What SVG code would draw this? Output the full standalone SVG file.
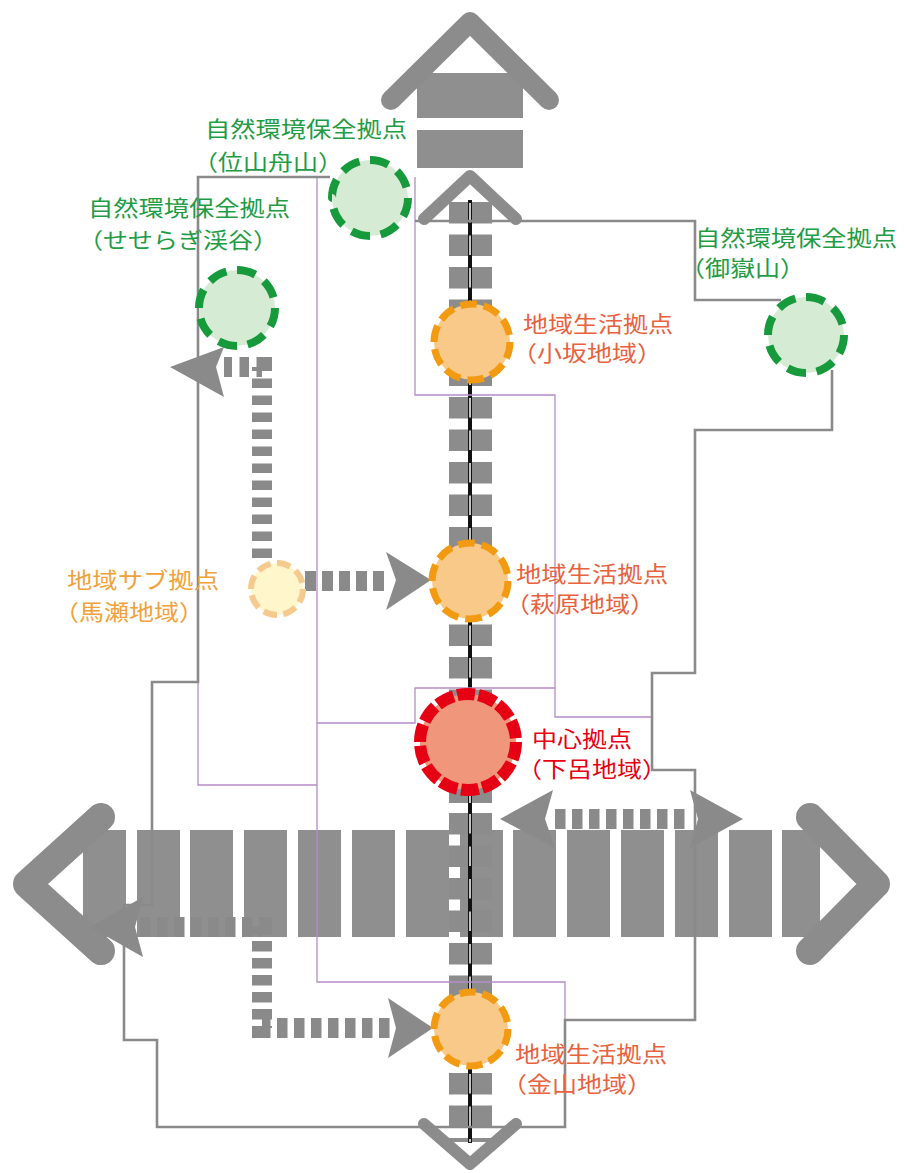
<svg xmlns="http://www.w3.org/2000/svg" width="905" height="1173" viewBox="0 0 905 1173">
<defs>
<style>
text{font-family:"Noto Sans CJK JP","Noto Sans CJK SC",sans-serif;font-size:22px}
.tg{fill:#1f9c46}.to{fill:#e8623e}.tr{fill:#e60012}.ty{fill:#f0a23a}
.road{fill:#8f8f8f}
.chev{fill:none;stroke:#8c8c8c;stroke-linecap:round;stroke-linejoin:round}
.ln{fill:none;stroke:#8a8a8a;stroke-width:2.6}
.pl{fill:none;stroke:#b58cc8;stroke-width:1.3}
.dot{fill:none;stroke:#8a8a8a;stroke-width:20}
.ah{fill:#8a8a8a}
.cg{fill:#d5ebd3;stroke:#169a3c;stroke-width:8;stroke-dasharray:8 4.5}
.co{fill:#f8c988;stroke:#f29b12;stroke-width:7;stroke-dasharray:7 3}
.cy{fill:#fff6cc;stroke:#f6c98e;stroke-width:6;stroke-dasharray:8.5 4}
.cr{fill:#f0977b;stroke:#e60014;stroke-width:12;stroke-dasharray:5.9 1.24}
</style>
</defs>

<!-- horizontal road -->
<g id="road-h">
<rect class="road" x="83" y="830" width="43" height="107"/>
<rect class="road" x="137" y="830" width="43" height="107"/>
<rect class="road" x="190" y="830" width="43" height="107"/>
<rect class="road" x="244" y="830" width="43" height="107"/>
<rect class="road" x="298" y="830" width="43" height="107"/>
<rect class="road" x="352" y="830" width="43" height="107"/>
<rect class="road" x="406" y="830" width="43" height="107"/>
<rect class="road" x="460" y="830" width="43" height="107"/>
<rect class="road" x="513" y="830" width="43" height="107"/>
<rect class="road" x="567" y="830" width="43" height="107"/>
<rect class="road" x="621" y="830" width="43" height="107"/>
<rect class="road" x="675" y="830" width="43" height="107"/>
<rect class="road" x="729" y="830" width="43" height="107"/>
<rect class="road" x="782" y="830" width="38" height="107"/>
<path class="chev" stroke-width="28" d="M101,817 L27,884 L101,951"/>
<path class="chev" stroke-width="28" d="M810,817 L876,884 L810,951"/>
</g>

<!-- top road arrow -->
<g id="road-top">
<rect class="road" x="417" y="73" width="106" height="45"/>
<rect class="road" x="417" y="130" width="106" height="38"/>
<path class="chev" stroke-width="20" d="M391,100 L470,22 L549,100"/>
</g>

<!-- railway -->
<g id="rail">
<line x1="470.5" y1="202" x2="470.5" y2="803" stroke="#8c8c8c" stroke-width="43" stroke-dasharray="21.5 11"/>
<line x1="470.5" y1="813" x2="470.5" y2="1142" stroke="#8c8c8c" stroke-width="43" stroke-dasharray="21.5 11"/>
<line x1="470" y1="200" x2="470" y2="1143" stroke="#111" stroke-width="4"/>
<line x1="470" y1="203" x2="470" y2="803" stroke="#f4f4f4" stroke-width="1.6" stroke-dasharray="19.5 13"/>
<line x1="470" y1="814" x2="470" y2="1142" stroke="#f4f4f4" stroke-width="1.6" stroke-dasharray="19.5 13"/>
<path class="chev" stroke-width="12" d="M424,219 L470,176 L516,219"/>
<path class="chev" stroke-width="12" d="M424,1124 L470,1164 L516,1124"/>
</g>

<!-- connectors -->
<g id="connectors">
<path class="pl" d="M415,177 V395 H555 V717 H652"/>
<path class="pl" d="M555,688 H415 V723 H317"/>
<path class="pl" d="M317,177 V982 H565 V1020"/>
<path class="pl" d="M198,682 V785 H317"/>
<path class="ln" d="M330,177 H198 V682 H152 V905 H124 V1040 H157 V1127 H565 V1020 H695 V770 H652 V673 H695 V430 H832 V370"/>
<path class="ln" d="M781,300 H695 V221 H415"/>
<path class="dot" stroke-dasharray="9.5 7.5" d="M262,558 V367 H224"/>
<polygon class="ah" points="170,367 224,347 216,367 224,397"/>
<path class="dot" stroke-dasharray="11 6" d="M305,581 H390"/>
<polygon class="ah" points="431,580 386,552 396,580 386,610"/>
<path class="dot" stroke-dasharray="10.5 6.5" d="M555,819 H690"/>
<polygon class="ah" points="500,819 553,790 545,819 555,848"/>
<polygon class="ah" points="743,819 690,790 698,819 690,848"/>
<path class="dot" stroke-dasharray="10.5 6.5" d="M140,927 H262 V1028 H390"/>
<polygon class="ah" points="90,927 143,897 135,927 143,957"/>
<polygon class="ah" points="433,1028 388,998 396,1028 388,1058"/>
</g>

<!-- nodes -->
<g id="node-kuraiyama">
<circle class="cg" cx="370" cy="198" r="38" pathLength="100"/>
<text class="tg" x="205" y="137" textLength="202" lengthAdjust="spacingAndGlyphs">自然環境保全拠点</text>
<text class="tg" x="193" y="170" textLength="150" lengthAdjust="spacingAndGlyphs">（位山舟山）</text>
</g>
<g id="node-seseragi">
<circle class="cg" cx="237" cy="308" r="38" pathLength="100"/>
<text class="tg" x="88" y="216" textLength="202" lengthAdjust="spacingAndGlyphs">自然環境保全拠点</text>
<text class="tg" x="78" y="248" textLength="200" lengthAdjust="spacingAndGlyphs">（せせらぎ渓谷）</text>
</g>
<g id="node-ontake">
<circle class="cg" cx="806" cy="335" r="38" pathLength="100"/>
<text class="tg" x="695" y="246" textLength="202" lengthAdjust="spacingAndGlyphs">自然環境保全拠点</text>
<text class="tg" x="680" y="276" textLength="125" lengthAdjust="spacingAndGlyphs">（御嶽山）</text>
</g>
<g id="node-osaka">
<circle class="co" cx="472" cy="342" r="38" pathLength="100"/>
<text class="to" x="523" y="332" textLength="150" lengthAdjust="spacingAndGlyphs">地域生活拠点</text>
<text class="to" x="512" y="361" textLength="150" lengthAdjust="spacingAndGlyphs">（小坂地域）</text>
</g>
<g id="node-hagiwara">
<circle class="co" cx="470" cy="581" r="38" pathLength="100"/>
<text class="to" x="516" y="582" textLength="152" lengthAdjust="spacingAndGlyphs">地域生活拠点</text>
<text class="to" x="505" y="612" textLength="150" lengthAdjust="spacingAndGlyphs">（萩原地域）</text>
</g>
<g id="node-maze">
<circle class="cy" cx="277" cy="589" r="26" pathLength="100"/>
<text class="ty" x="67" y="588" textLength="152" lengthAdjust="spacingAndGlyphs">地域サブ拠点</text>
<text class="ty" x="54" y="620" textLength="150" lengthAdjust="spacingAndGlyphs">（馬瀬地域）</text>
</g>
<g id="node-gero">
<circle class="cr" cx="468" cy="742" r="48" pathLength="100"/>
<text class="tr" x="532" y="747" textLength="100" lengthAdjust="spacingAndGlyphs">中心拠点</text>
<text class="tr" x="517" y="777" textLength="150" lengthAdjust="spacingAndGlyphs">（下呂地域）</text>
</g>
<g id="node-kanayama">
<circle class="co" cx="471" cy="1029" r="37" pathLength="100"/>
<text class="to" x="515" y="1062" textLength="152" lengthAdjust="spacingAndGlyphs">地域生活拠点</text>
<text class="to" x="502" y="1092" textLength="150" lengthAdjust="spacingAndGlyphs">（金山地域）</text>
</g>
</svg>
